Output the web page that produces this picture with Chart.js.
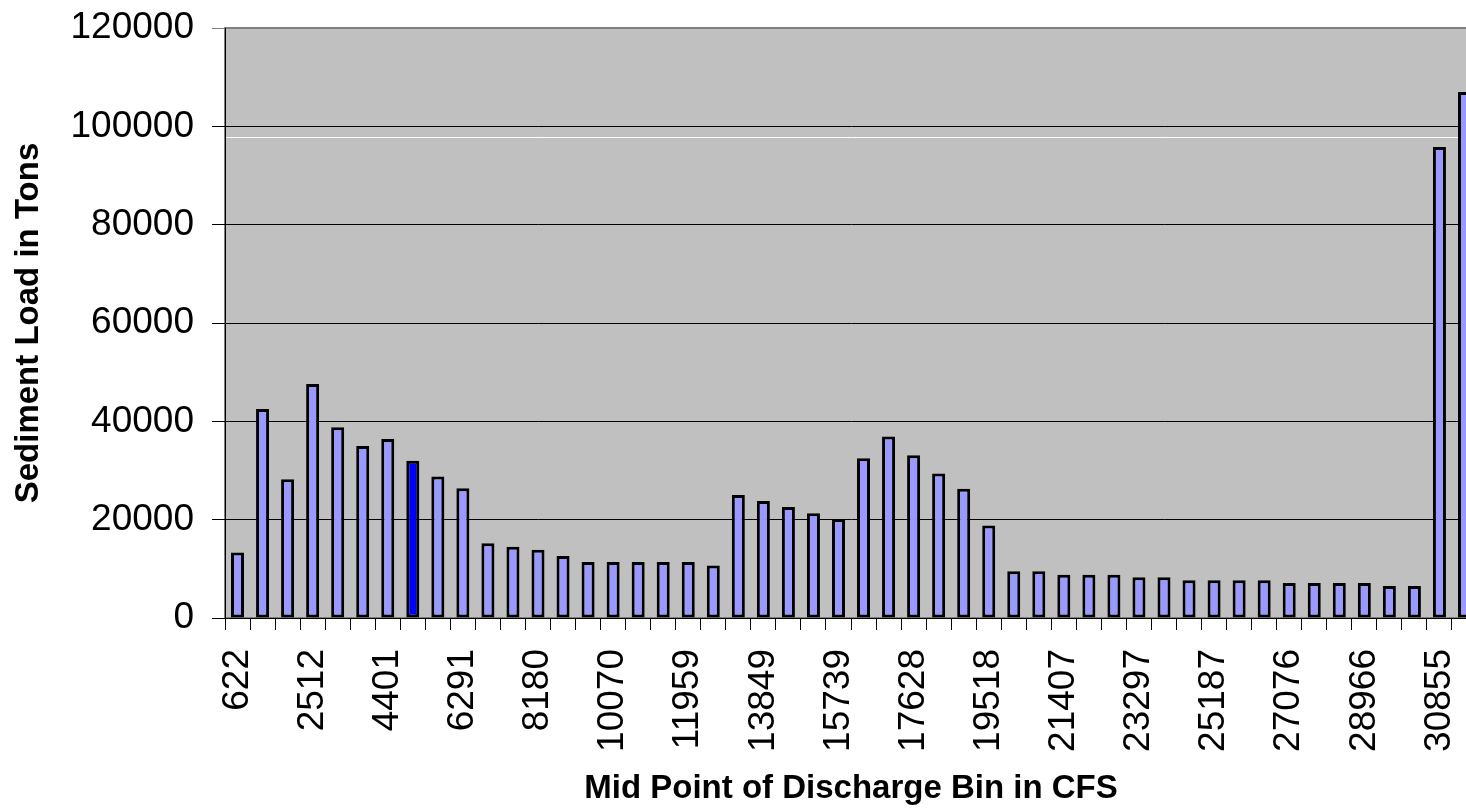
<!DOCTYPE html>
<html>
<head>
<meta charset="utf-8">
<title>Sediment Load by Discharge Bin</title>
<script src="https://cdn.jsdelivr.net/npm/chart.js@4.4.1/dist/chart.umd.min.js"></script>
<style>
  html, body { margin: 0; padding: 0; background: #fff; overflow: hidden; }
  .chart-wrap { position: relative; width: 1478px; height: 809px; }
</style>
</head>
<body>
<div class="chart-wrap"><canvas id="sedimentChart"></canvas></div>
<script>
/**
 * Data
 */
const binMidpoints = [
  622, 1252, 1882, 2512, 3141, 3771, 4401, 5031, 5661, 6291,
  6920, 7550, 8180, 8810, 9440, 10070, 10699, 11329, 11959, 12589,
  13219, 13849, 14478, 15108, 15739, 16368, 16998, 17628, 18258, 18888,
  19518, 20147, 20777, 21407, 22037, 22667, 23297, 23926, 24556, 25187,
  25816, 26446, 27076, 27705, 28336, 28966, 29595, 30225, 30855, 31485,
];
const sedimentLoad = [
  13300, 42500, 28200, 47600, 38800, 35000, 36400, 32000, 28800, 26400,
  15200, 14500, 13900, 12600, 11400, 11400, 11400, 11400, 11400, 10700,
  25000, 23800, 22600, 21300, 20100, 32500, 36900, 33100, 29400, 26300,
  18800, 9500, 9500, 8800, 8800, 8800, 8300, 8300, 7700, 7700,
  7700, 7700, 7100, 7100, 7100, 7100, 6500, 6500, 95800, 107000,
];
const yTicks = [0, 20000, 40000, 60000, 80000, 100000, 120000];
const labelEvery = 3;
const highlightBin = 7;

/**
 * Styles
 */
const fontFamily = '"Liberation Sans", Arial, sans-serif';
const barFill = '#9999ff';
const barHighlight = '#0000ff';

/**
 * Plot area background, frame and the stray white rule under 100000
 */
const plotBackground = {
  id: 'plotBackground',
  beforeDraw(chart) {
    const { ctx, chartArea: { left, top, right, bottom } } = chart;
    ctx.save();
    ctx.fillStyle = '#c0c0c0';
    ctx.fillRect(left, top, right - left, bottom - top);
    ctx.strokeStyle = '#808080';
    ctx.lineWidth = 2;
    ctx.strokeRect(left, top, right - left, bottom - top);
    ctx.restore();
  },
  beforeDatasetsDraw(chart) {
    const { ctx, chartArea: { left, right }, scales: { y } } = chart;
    const yPos = Math.round(y.getPixelForValue(97800)) + 0.5;
    ctx.save();
    ctx.strokeStyle = '#ffffff';
    ctx.lineWidth = 1;
    ctx.beginPath();
    ctx.moveTo(left + 1, yPos);
    ctx.lineTo(right, yPos);
    ctx.stroke();
    ctx.restore();
  },
};

/**
 * Chart
 */
function createSedimentChart(selector) {
  const ctx = document.getElementById(selector).getContext('2d');
  return new Chart(ctx, {
    type: 'bar',
    data: {
      labels: binMidpoints,
      datasets: [
        {
          label: 'Sediment Load',
          data: sedimentLoad,
          backgroundColor: sedimentLoad.map((v, i) => (i === highlightBin ? barHighlight : barFill)),
          borderColor: '#000000',
          borderWidth: 3,
          borderSkipped: false,
          barPercentage: 0.52,
          categoryPercentage: 1,
        },
      ],
    },
    options: {
      responsive: true,
      maintainAspectRatio: false,
      animation: false,
      events: [],
      layout: { padding: { top: 28, right: 1, left: 0, bottom: 0 } },
      plugins: {
        legend: { display: false },
        tooltip: { enabled: false },
      },
      scales: {
        x: {
          grid: {
            display: true,
            offset: true,
            drawOnChartArea: false,
            drawTicks: true,
            tickLength: 12,
            color: '#000000',
          },
          border: { display: true, color: '#000000', width: 1 },
          ticks: {
            autoSkip: false,
            maxRotation: 90,
            minRotation: 90,
            padding: 19,
            color: '#000000',
            font: { family: fontFamily, size: 37 },
            callback: function (value, index) {
              return index % labelEvery === 0 ? String(this.getLabelForValue(value)) : '';
            },
          },
          title: {
            display: true,
            text: 'Mid Point of Discharge Bin in CFS',
            color: '#000000',
            font: { family: fontFamily, size: 33, weight: 'bold' },
            padding: { top: 0, bottom: 0 },
          },
          afterFit: (scale) => {
            scale.height = 191;
            scale.paddingLeft = 0;
            scale.paddingRight = 0;
          },
        },
        y: {
          min: 0,
          max: 120000,
          afterBuildTicks: (scale) => {
            scale.ticks = yTicks.map((value) => ({ value }));
          },
          grid: {
            color: (c) => (c.tick && c.tick.value === 120000 ? '#808080' : '#000000'),
            lineWidth: 1,
            drawTicks: true,
            tickLength: 13,
          },
          border: { display: true, color: '#000000', width: 1 },
          ticks: {
            padding: 18,
            color: '#000000',
            font: { family: fontFamily, size: 37 },
            callback: (value) => String(value),
          },
          title: {
            display: true,
            text: 'Sediment Load in Tons',
            color: '#000000',
            font: { family: fontFamily, size: 33, weight: 'bold' },
            padding: { top: 9, bottom: 0 },
          },
          afterFit: (scale) => {
            scale.width = 225;
            scale.paddingTop = 0;
            scale.paddingBottom = 0;
          },
        },
      },
    },
    plugins: [plotBackground],
  });
}

createSedimentChart('sedimentChart');
</script>
</body>
</html>
